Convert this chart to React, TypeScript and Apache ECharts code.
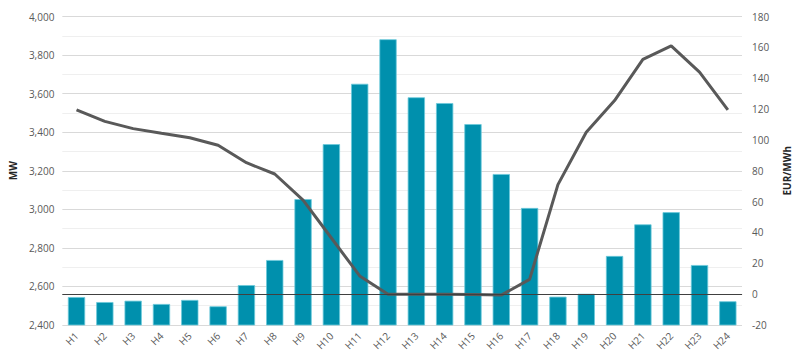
import React, { useEffect, useRef } from "react";
import * as echarts from "echarts";

const categories = ["H1","H2","H3","H4","H5","H6","H7","H8","H9","H10","H11","H12","H13","H14","H15","H16","H17","H18","H19","H20","H21","H22","H23","H24"];
const mwValues = [2545,2519,2526,2509,2530,2497,2607,2737,3053,3338,3651,3882,3581,3551,3442,3183,3007,2547,2562,2758,2922,2985,2711,2523];
const priceValues = [119.5,112,107.3,104.3,101.4,96.5,85.2,77.9,61,36.4,11.8,0,0,0,-0.3,-0.6,9.6,71,105,125.5,152.2,161,144,119.5];

export default function App() {
  const ref = useRef<HTMLDivElement>(null);
  useEffect(() => {
    if (!ref.current) return;
    const chart = echarts.init(ref.current, null, { renderer: "svg" });
    const font = "'Open Sans', sans-serif";
    chart.setOption({
      animation: false,
      textStyle: { fontFamily: font },
      grid: { left: 52, right: 54, top: 16.5, bottom: 30, containLabel: false },
      xAxis: {
        type: "category",
        data: categories,
        axisTick: { show: false },
        axisLine: { show: true, lineStyle: { color: "#d9d9d9" } },
        axisLabel: { rotate: 45, fontSize: 10, color: "#595959", fontFamily: font, margin: 9, interval: 0 },
      },
      yAxis: [
        {
          type: "value",
          min: 2400,
          max: 4000,
          interval: 200,
          name: "MW",
          nameLocation: "middle",
          nameGap: 40,
          nameRotate: 90,
          nameTextStyle: { fontWeight: "bold", fontSize: 10, color: "#262626", fontFamily: font },
          axisLabel: {
            fontSize: 10,
            color: "#595959",
            fontFamily: font,
            margin: 8,
            formatter: (v: number) => v.toLocaleString("en-US"),
          },
          axisLine: { show: false },
          axisTick: { show: false },
          splitLine: { show: true, lineStyle: { color: "#d9d9d9", width: 1 } },
          minorTick: { show: false, splitNumber: 2 },
          minorSplitLine: { show: true, lineStyle: { color: "#efefef", width: 1 } },
        },
        {
          type: "value",
          min: -20,
          max: 180,
          interval: 20,
          name: "EUR/MWh",
          nameLocation: "middle",
          nameGap: 40,
          nameRotate: 90,
          nameTextStyle: { fontWeight: "bold", fontSize: 10, color: "#262626", fontFamily: font },
          axisLabel: { fontSize: 10, color: "#595959", fontFamily: font, margin: 10 },
          axisLine: { show: false },
          axisTick: { show: false },
          splitLine: { show: false },
        },
      ],
      series: [
        {
          type: "bar",
          data: mwValues,
          yAxisIndex: 0,
          barWidth: "61%",
          itemStyle: { color: "#0090ad", borderColor: "#6cc9da", borderWidth: 0.8 },
        },
        {
          type: "line",
          data: priceValues,
          yAxisIndex: 1,
          symbol: "none",
          lineStyle: { color: "#595959", width: 3 },
          markLine: {
            silent: true,
            symbol: "none",
            label: { show: false },
            lineStyle: { color: "#404040", width: 1, type: "solid" },
            data: [{ yAxis: 0 }],
          },
        },
      ],
    });
    return () => chart.dispose();
  }, []);
  return <div ref={ref} style={{ width: 800, height: 355, position: "absolute", left: 0, top: 0 }} />;
}
